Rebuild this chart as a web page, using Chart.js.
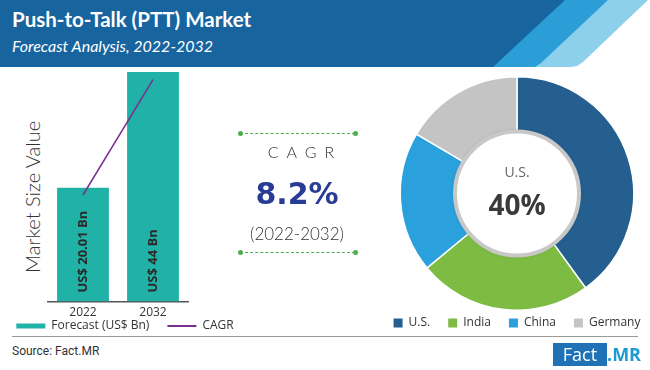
<!DOCTYPE html>
<html>
<head>
<meta charset="utf-8">
<script src="https://cdn.jsdelivr.net/npm/chart.js@4.4.0/dist/chart.umd.min.js"></script>
<style>
  body { margin: 0; background: #fff; }
  #wrap { position: relative; width: 650px; height: 370px; overflow: hidden; background: #fff; font-family: "Open Sans", sans-serif; }
  .band { position: absolute; left: 0; top: 0; width: 650px; height: 67px; }
  #title { position: absolute; left: 12px; top: 7px; color: #fff; font: bold 20.5px Lato, sans-serif; white-space: nowrap; }
  #subtitle { position: absolute; left: 12px; top: 36px; color: #fff; font: italic 16px Lato, sans-serif; white-space: nowrap; }
  #yTitle { position: absolute; left: 32px; top: 197px; transform: translate(-50%, -50%) rotate(-90deg); font: 300 20px Lato, sans-serif; color: #333; white-space: nowrap; }
  #barBox { position: absolute; left: 0; top: 67px; width: 250px; height: 271px; }
  #pieBox { position: absolute; left: 383px; top: 67px; width: 268px; height: 272px; }
  .dash { position: absolute; left: 240px; width: 115px; height: 0; border-top: 1.5px dashed #4cae4c; }
  .dot { position: absolute; width: 5px; height: 5px; border-radius: 50%; background: #4cae4c; }
  .mid { position: absolute; left: 197px; width: 200px; text-align: center; white-space: nowrap; }
  #sep { position: absolute; left: 12px; top: 336px; width: 626px; height: 1px; background: #999; }
  #source { position: absolute; left: 12px; top: 344px; font: 12px Roboto, sans-serif; color: #333; }
  #logoBox { position: absolute; left: 553px; top: 343px; width: 54px; height: 23px; background: #1f72b5; color: #fff; font: 18px "Open Sans", sans-serif; line-height: 23px; text-align: center; }
  #logoMR { position: absolute; left: 607px; top: 343px; color: #1d9ad6; font: bold 18px "Open Sans", sans-serif; line-height: 23px; }
</style>
</head>
<body>
<div id="wrap">
  <div class="band" style="background:#8dd0ec; clip-path: polygon(0 0, 648px 0, 583px 62px, 577px 66px, 571px 67px, 0 67px);"></div>
  <div class="band" style="background:#2b9ed8; clip-path: polygon(0 0, 608px 0, 541px 63px, 535px 67px, 0 67px);"></div>
  <div class="band" style="background:#17649f; clip-path: polygon(0 0, 565px 0, 493px 67px, 0 67px);"></div>
  <div id="title">Push-to-Talk (PTT) Market</div>
  <div id="subtitle">Forecast Analysis, 2022-2032</div>

  <div id="yTitle">Market Size Value</div>
  <div id="barBox"><canvas id="barChart"></canvas></div>

  <div class="dash" style="top:133px"></div>
  <div class="dot" style="left:238px; top:131px"></div>
  <div class="dot" style="left:353px; top:131px"></div>
  <div class="mid" style="top:142px; font: 300 16px Lato, sans-serif; letter-spacing: 8px; padding-left: 8px; color:#333;">CAGR</div>
  <div class="mid" style="top:176px; font: bold 30px 'DejaVu Sans', sans-serif; color:#283c96;">8.2%</div>
  <div class="mid" style="top:223px; font: 300 17px Lato, sans-serif; color:#333;">(2022-2032)</div>
  <div class="dash" style="top:252px"></div>
  <div class="dot" style="left:238px; top:250px"></div>
  <div class="dot" style="left:353px; top:250px"></div>

  <div id="pieBox"><canvas id="pieChart"></canvas></div>

  <div id="sep"></div>
  <div id="source">Source: Fact.MR</div>
  <div id="logoBox">Fact</div>
  <div id="logoMR">.MR</div>
</div>
<script>
// datos
const years = ['2022', '2032'];
const marketSize = [20.01, 44];
const barLabels = ['US$ 20.01 Bn', 'US$ 44 Bn'];
const cagrLine = [18.5, 42.4];
const regions = ['U.S.', 'India', 'China', 'Germany'];
const regionShare = [40, 24, 19.5, 16.5];
const centerLabel = 'U.S.';
const centerValue = '40%';

const gap = '\u2002\u2002\u2002';

// texto dentro de las barras
const barText = {
    id: 'barText',
    afterLayout(chart) {
        // bajar un poco la leyenda
        chart.legend.top += 4;
        chart.legend.bottom += 4;
    },
    afterDatasetsDraw(chart) {
        const ctx = chart.ctx;
        const meta = chart.getDatasetMeta(0);
        ctx.save();
        ctx.font = 'bold 13px "Open Sans"';
        ctx.fillStyle = '#2a2a2a';
        ctx.textBaseline = 'middle';
        ctx.textAlign = 'left';
        meta.data.forEach((bar, i) => {
            ctx.save();
            ctx.translate(bar.x, chart.chartArea.bottom - 9);
            ctx.rotate(-Math.PI / 2);
            ctx.fillText(barLabels[i], 0, 0);
            ctx.restore();
        });
        ctx.restore();
    }
};

new Chart(document.getElementById('barChart'), {
    data: {
        labels: years,
        datasets: [{
            type: 'bar',
            label: 'Forecast (US$ Bn)',
            data: marketSize,
            base: -3.6,
            backgroundColor: '#20b2a6',
            borderWidth: 0,
            categoryPercentage: 1,
            barPercentage: 0.74,
            order: 1
        }, {
            type: 'line',
            label: 'CAGR',
            data: cagrLine,
            borderColor: '#7a2e8e',
            backgroundColor: '#7a2e8e',
            borderWidth: 1.5,
            pointRadius: 0,
            fill: false,
            order: 0
        }]
    },
    options: {
        responsive: true,
        maintainAspectRatio: false,
        animation: false,
        layout: { padding: { top: 5, bottom: 0 } },
        scales: {
            x: {
                grid: { display: false },
                border: { color: '#555', width: 1.5 },
                ticks: { color: '#333', font: { family: 'Open Sans', size: 12 }, padding: -4 }
            },
            y: {
                min: -3.6, max: 44,
                grid: { display: false }, border: { display: false }, ticks: { display: false },
                afterFit(axis) { axis.width = 48; }
            },
            y2: {
                position: 'right',
                grid: { display: false }, border: { display: false }, ticks: { display: false },
                afterFit(axis) { axis.width = 62; }
            }
        },
        plugins: {
            tooltip: { enabled: false },
            legend: {
                position: 'bottom',
                labels: {
                    usePointStyle: true,
                    pointStyleWidth: 29,
                    boxHeight: 5,
                    padding: 0,
                    color: '#333',
                    font: { family: 'Open Sans', size: 12 },
                    sort: (a, b) => a.datasetIndex - b.datasetIndex,
                    generateLabels(chart) {
                        const items = Chart.defaults.plugins.legend.labels.generateLabels(chart);
                        items.forEach(it => {
                            if (it.datasetIndex === 0) {
                                it.text += gap;
                                it.pointStyle = 'rect';
                                it.lineWidth = 0;
                            } else {
                                it.pointStyle = 'line';
                                it.lineWidth = 2;
                                it.strokeStyle = '#7a2e8e';
                            }
                        });
                        return items;
                    }
                }
            }
        }
    },
    plugins: [barText]
});

// circulo central
const centerText = {
    id: 'centerText',
    afterDatasetsDraw(chart) {
        const ctx = chart.ctx;
        const arc = chart.getDatasetMeta(0).data[0];
        const x = arc.x, y = arc.y;
        ctx.save();
        ctx.beginPath();
        ctx.arc(x, y, 62, 0, Math.PI * 2);
        ctx.shadowColor = 'rgba(0,0,0,0.25)';
        ctx.shadowBlur = 4;
        ctx.fillStyle = '#fff';
        ctx.fill();
        ctx.shadowColor = 'transparent';
        ctx.lineWidth = 4;
        ctx.strokeStyle = '#c8c8c8';
        ctx.stroke();
        ctx.textAlign = 'center';
        ctx.textBaseline = 'middle';
        ctx.fillStyle = '#666';
        ctx.font = '14px "Open Sans"';
        ctx.fillText(centerLabel, x, y - 20);
        ctx.fillStyle = '#3a3a3a';
        ctx.font = 'bold 28px "Open Sans"';
        ctx.fillText(centerValue, x, y + 14);
        ctx.restore();
    }
};

new Chart(document.getElementById('pieChart'), {
    type: 'doughnut',
    data: {
        labels: regions,
        datasets: [{
            data: regionShare,
            backgroundColor: ['#245f8f', '#7dbb42', '#2aa0dc', '#c4c4c4'],
            borderColor: '#fff',
            borderWidth: 1.5
        }]
    },
    options: {
        responsive: true,
        maintainAspectRatio: false,
        animation: false,
        cutout: 62,
        layout: { padding: { top: 9 } },
        plugins: {
            tooltip: { enabled: false },
            legend: {
                position: 'bottom',
                labels: {
                    boxWidth: 9,
                    boxHeight: 9,
                    padding: 6,
                    color: '#333',
                    font: { family: 'Open Sans', size: 12 },
                    generateLabels(chart) {
                        const items = Chart.overrides.doughnut.plugins.legend.labels.generateLabels(chart);
                        items.forEach((it, i) => { it.lineWidth = 0; if (i < items.length - 1) it.text += '\u2002\u2002'; });
                        return items;
                    }
                }
            }
        }
    },
    plugins: [centerText]
});
</script>
</body>
</html>
